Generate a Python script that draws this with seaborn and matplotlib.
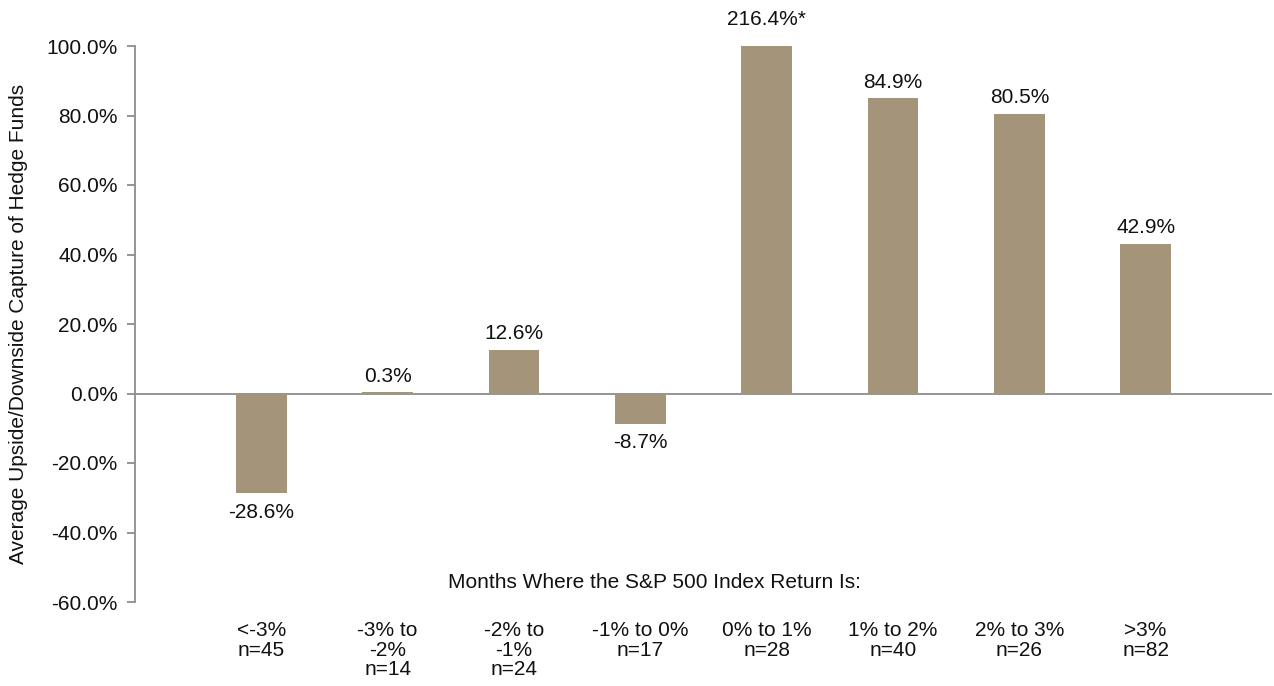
import matplotlib
matplotlib.use("Agg")
import matplotlib.pyplot as plt
import seaborn as sns
import pandas as pd
from matplotlib.ticker import FuncFormatter

categories = ["<-3%\nn=45", "-3% to\n-2%\nn=14", "-2% to\n-1%\nn=24", "-1% to 0%\nn=17",
              "0% to 1%\nn=28", "1% to 2%\nn=40", "2% to 3%\nn=26", ">3%\nn=82"]
values = [-28.6, 0.3, 12.6, -8.7, 216.4, 84.9, 80.5, 42.9]

df = pd.DataFrame({"cat": categories, "val": values})

sns.set_theme(style="white")
plt.rcParams['font.family'] = ['Liberation Sans', 'DejaVu Sans']

FS = 15
fig = plt.figure(figsize=(12.74, 6.86), dpi=100)
ax = fig.add_axes([135/1274, 84/686, (1272-135)/1274, (602-46)/686])

bar_color = "#A49479"
sns.barplot(data=df, x="cat", y="val", order=categories, color=bar_color,
            width=0.4, saturation=1, linewidth=0, ax=ax, zorder=2)

ymin, ymax = -60, 100
ax.set_ylim(ymin, ymax)
ax.set_xlim(-1, 8)
ax.set_yticks([-60, -40, -20, 0, 20, 40, 60, 80, 100])
ax.yaxis.set_major_formatter(FuncFormatter(lambda v, p: f"{v:.1f}%"))

gray = "#8C8C8C"
for s in ["top", "right", "bottom"]:
    ax.spines[s].set_visible(False)
ax.spines["left"].set_color(gray)
ax.spines["left"].set_linewidth(1.3)
ax.axhline(0, color=gray, lw=1.3, zorder=1)

ax.tick_params(axis="y", which="both", left=True, length=6, width=1.3, color=gray,
               labelsize=FS, labelcolor="#111111", pad=6.5)
ax.tick_params(axis="x", length=0, labelsize=FS, labelcolor="#111111", pad=14)
for lab in ax.get_xticklabels():
    lab.set_linespacing(1.03)
ax.set_xlabel("")
ax.set_ylabel("Average Upside/Downside Capture of Hedge Funds", fontsize=FS,
              color="#111111", labelpad=13)

for i, v in enumerate(values):
    txt = f"{v:.1f}%" + ("*" if v > ymax else "")
    if v >= 0:
        y = min(v, ymax)
        off = 12 if v > ymax else 5
        ax.annotate(txt, (i, y), xytext=(0, off), textcoords="offset points",
                    ha="center", va="bottom", fontsize=FS, color="#111111")
    else:
        ax.annotate(txt, (i, v), xytext=(0, -7), textcoords="offset points",
                    ha="center", va="top", fontsize=FS, color="#111111")

ax.text(3.11, -54.5, "Months Where the S&P 500 Index Return Is:", ha="center", va="center",
        fontsize=FS, color="#111111")

fig.savefig("out.png", dpi=100)
